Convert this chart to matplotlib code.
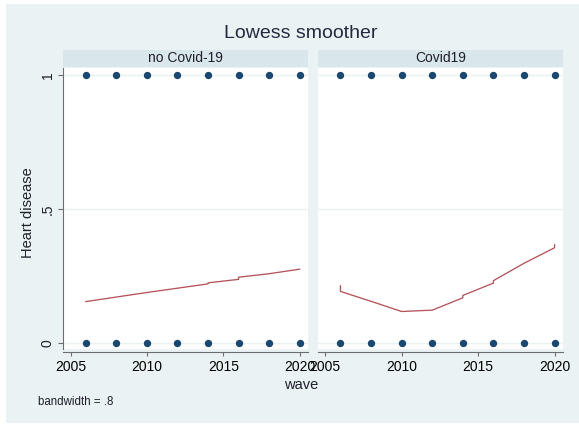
import matplotlib
matplotlib.use("Agg")
import matplotlib.pyplot as plt
from matplotlib.patches import Rectangle

plt.rcParams['font.family'] = ['Liberation Sans', 'DejaVu Sans']

# Survey waves and the binary outcome values observed at each wave
waves = [2006, 2008, 2010, 2012, 2014, 2016, 2018, 2020]
outcome_levels = [0, 1]

panel_titles = ["no Covid-19", "Covid19"]

# Lowess fitted values (repeated x where ties give slightly different fits)
fit_x_nocovid = [2006, 2008, 2010, 2012, 2014, 2014, 2016, 2016, 2018, 2020]
fit_y_nocovid = [0.154, 0.171, 0.188, 0.204, 0.220, 0.224, 0.237, 0.245, 0.258, 0.275]

fit_x_covid = [2006, 2006, 2008, 2010, 2012, 2014, 2014, 2016, 2016, 2018, 2020, 2020]
fit_y_covid = [0.213, 0.192, 0.155, 0.117, 0.122, 0.168, 0.177, 0.223, 0.232, 0.297, 0.355, 0.366]

x_ticks = [2005, 2010, 2015, 2020]
y_ticks = [0, 0.5, 1]
y_ticklabels = ["0", ".5", "1"]

bg = "#eaf2f3"
strip_bg = "#d9e6ec"
navy = "#1a476f"
maroon = "#b5545b"
axis_gray = "#6e6e6e"
text_col = "#1f1f2a"

W, H = 579, 425
fig = plt.figure(figsize=(W / 100, H / 100), dpi=100, facecolor="white")

# outer graph region
fig.patches.append(Rectangle((6 / W, 2 / H), (W - 6) / W, (H - 6) / H,
                             transform=fig.transFigure, facecolor=bg,
                             edgecolor="none", zorder=-10))

def fx(px):
    return px / W

def fy(py):
    return 1 - py / H

plot_top, plot_bot = 68, 349
panels = [(63, 308), (317.5, 563)]
fits = [(fit_x_nocovid, fit_y_nocovid), (fit_x_covid, fit_y_covid)]

for i, ((l, r), (fxs, fys)) in enumerate(zip(panels, fits)):
    ax = fig.add_axes([fx(l), fy(plot_bot), fx(r) - fx(l), fy(plot_top) - fy(plot_bot)])
    ax.set_zorder(2)
    ax.set_facecolor("white")
    ax.set_xlim(2004.5, 2020.55)
    ax.set_ylim(-0.023, 1.026)
    for yv in y_ticks:
        ax.axhline(yv, color=bg, lw=1.0, zorder=1)
    for lev in outcome_levels:
        ax.scatter(waves, [lev] * len(waves), s=28, color=navy, zorder=3,
                   linewidths=0, clip_on=False)
    ax.plot(fxs, fys, color=maroon, lw=0.95, zorder=2)

    ax.set_xticks(x_ticks)
    ax.set_xticklabels([str(t) for t in x_ticks], fontsize=10, color=text_col)
    ax.tick_params(axis="x", length=2.8, width=0.8, color=axis_gray, pad=3.2)
    for s in ["top", "right"]:
        ax.spines[s].set_visible(False)
    ax.spines["bottom"].set_color(axis_gray)
    ax.spines["bottom"].set_linewidth(0.8)
    ax.spines["bottom"].set_position(("outward", 1.8))
    if i == 0:
        ax.set_yticks(y_ticks)
        ax.set_yticklabels(y_ticklabels, fontsize=10, color=text_col,
                           rotation=90, va="center")
        ax.tick_params(axis="y", length=3.6, width=0.8, color=axis_gray, pad=2.5)
        ax.spines["left"].set_color(axis_gray)
        ax.spines["left"].set_linewidth(0.8)
    else:
        ax.set_yticks([])
        ax.spines["left"].set_visible(False)

    # panel header strip
    fig.patches.append(Rectangle((fx(l), fy(67)), fx(r) - fx(l), fy(50) - fy(67),
                                 transform=fig.transFigure, facecolor=strip_bg,
                                 edgecolor="none", zorder=1))
    fig.text((fx(l) + fx(r)) / 2, fy(58.5), panel_titles[i], ha="center",
             va="center", fontsize=10, color=text_col)

fig.text(fx(301), fy(38.3), "Lowess smoother", ha="center", va="baseline",
         fontsize=14, color="#232a40")
fig.text(fx(301), fy(389.3), "wave", ha="center", va="baseline",
         fontsize=10.5, color=text_col)
fig.text(fx(28), fy(213), "Heart disease", ha="center", va="center",
         rotation=90, fontsize=10.5, color=text_col)
fig.text(fx(38), fy(405), "bandwidth = .8", ha="left", va="baseline",
         fontsize=8.3, color=text_col)

fig.savefig("out.png", dpi=100, facecolor=fig.get_facecolor())
